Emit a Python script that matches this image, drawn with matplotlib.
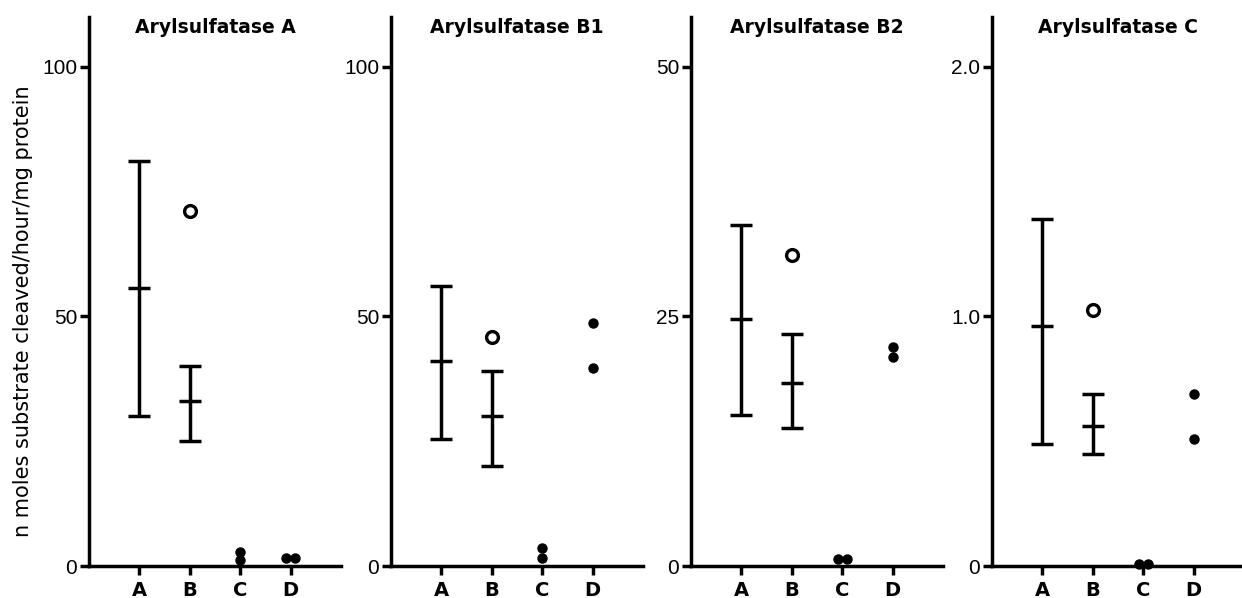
import matplotlib
matplotlib.use("Agg")
from matplotlib import pyplot

categories = ["A", "B", "C", "D"]
titles = ["Arylsulfatase A", "Arylsulfatase B1", "Arylsulfatase B2", "Arylsulfatase C"]
y_ticks = [[0, 50, 100], [0, 50, 100], [0, 25, 50], [0, 1.0, 2.0]]
y_ticklabels = [["0", "50", "100"], ["0", "50", "100"], ["0", "25", "50"], ["0", "1.0", "2.0"]]
y_max = [110, 110, 55, 2.2]

# group A: low / mean / high
a_low = [30.0, 25.5, 15.1, 0.49]
a_mean = [55.7, 41.1, 24.7, 0.96]
a_high = [81.2, 56.2, 34.2, 1.39]
# group B: low / mean / high, plus single open-circle value
b_low = [25.0, 20.1, 13.8, 0.45]
b_mean = [33.0, 30.0, 18.3, 0.56]
b_high = [40.0, 39.1, 23.2, 0.69]
b_open = [71.1, 45.9, 31.2, 1.025]
# groups C and D: two individual values each
c_points = [[2.8, 1.2], [3.6, 1.6], [0.7, 0.7], [0.01, 0.01]]
d_points = [[1.7, 1.7], [48.6, 39.6], [21.9, 20.9], [0.69, 0.51]]

W, H = 1242, 598
fig = pyplot.figure(figsize=(W / 100, H / 100), dpi=100)

ax_left = [89, 391, 691, 992]
ax_w = 252
ax_top, ax_bottom = 17, 566

LW = 2.5
num_font = ["Liberation Sans Narrow", "Liberation Sans", "DejaVu Sans"]
bold_font = ["DejaVu Sans"]


def draw_pair(ax, x, vals):
    # equal values sit side by side, others stack
    if vals[0] == vals[1]:
        xs = [x - 0.09, x + 0.09]
    else:
        xs = [x, x]
    ax.plot(xs, vals, "o", color="black", markersize=6.5, linestyle="none", clip_on=False)


for i in range(4):
    ax = fig.add_axes([ax_left[i] / W, (H - ax_bottom) / H, ax_w / W, (ax_bottom - ax_top) / H])
    xs = range(1, len(categories) + 1)

    ax.errorbar([1], [a_mean[i]], yerr=[[a_mean[i] - a_low[i]], [a_high[i] - a_mean[i]]],
                fmt="_", color="black", markersize=16, mew=LW, elinewidth=LW,
                capsize=8, capthick=LW)
    ax.errorbar([2], [b_mean[i]], yerr=[[b_mean[i] - b_low[i]], [b_high[i] - b_mean[i]]],
                fmt="_", color="black", markersize=16, mew=LW, elinewidth=LW,
                capsize=8, capthick=LW)
    ax.plot([2], [b_open[i]], "o", markerfacecolor="white", markeredgecolor="black",
            markersize=8.5, mew=2.4)
    draw_pair(ax, 3, c_points[i])
    draw_pair(ax, 4, d_points[i])

    ax.set_xlim(0, 5)
    ax.set_ylim(0, y_max[i])
    ax.set_xticks(list(xs))
    ax.set_xticklabels(categories, fontsize=14, fontweight="bold", family=bold_font)
    ax.set_yticks(y_ticks[i])
    ax.set_yticklabels(y_ticklabels[i], fontsize=15, family=num_font)

    for side in ["top", "right"]:
        ax.spines[side].set_visible(False)
    ax.spines["left"].set_linewidth(LW)
    ax.spines["bottom"].set_linewidth(LW)
    ax.tick_params(axis="both", direction="out", length=6.5, width=LW, color="black")
    ax.tick_params(axis="x", pad=4)
    ax.tick_params(axis="y", pad=2)

    ax.text(0.5, 0.971, titles[i], transform=ax.transAxes, ha="center", va="baseline",
            fontsize=13.5, fontweight="bold", family=bold_font)

fig.text(23 / W, 1 - 311 / H, "n moles substrate cleaved/hour/mg protein", rotation=90,
         ha="center", va="center", fontsize=15, family=["DejaVu Sans"])

fig.savefig("out.png", dpi=100)
